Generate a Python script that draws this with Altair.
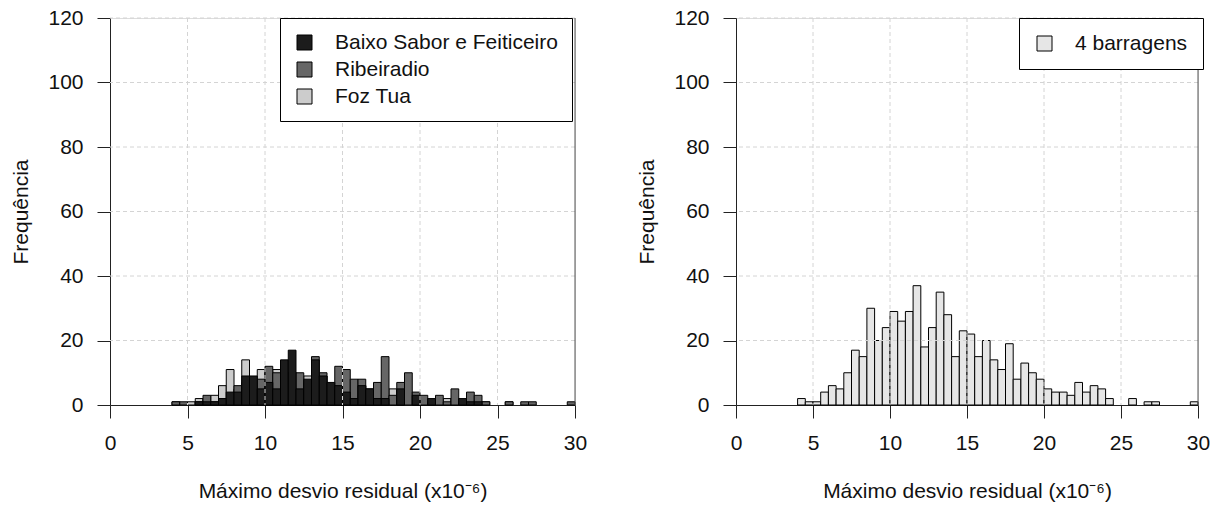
import altair as alt
import pandas as pd

# bin starts (bin width 0.5)
bin_starts = [4.0, 4.5, 5.0, 5.5, 6.0, 6.5, 7.0, 7.5, 8.0, 8.5, 9.0, 9.5, 10.0, 10.5, 11.0, 11.5,
              12.0, 12.5, 13.0, 13.5, 14.0, 14.5, 15.0, 15.5, 16.0, 16.5, 17.0, 17.5, 18.0, 18.5,
              19.0, 19.5, 20.0, 20.5, 21.0, 21.5, 22.0, 22.5, 23.0, 23.5, 24.0, 25.5, 26.5, 27.0, 29.5]
baixo_sabor = [0, 0, 0, 1, 1, 1, 2, 4, 4, 9, 9, 5, 7, 5, 14, 17, 5, 8, 14, 9, 7, 6, 4, 2, 6, 5, 2, 2, 0, 5,
               0, 3, 0, 2, 0, 0, 0, 2, 1, 1, 0, 0, 0, 0, 0]
ribeiradio = [1, 1, 0, 1, 3, 1, 2, 2, 6, 7, 5, 8, 12, 10, 8, 10, 10, 7, 15, 10, 4, 12, 11, 8, 8, 5, 7, 15, 3, 7,
              10, 4, 3, 1, 3, 1, 5, 1, 4, 3, 1, 1, 1, 1, 1]
foz_tua = [1, 0, 1, 2, 2, 3, 6, 11, 5, 14, 6, 11, 10, 11, 7, 10, 3, 9, 6, 9, 4, 5, 7, 5, 6, 4, 2, 2, 5, 1,
           0, 1, 2, 1, 1, 2, 2, 1, 1, 1, 1, 1, 0, 0, 0]
quatro_barragens = [2, 1, 1, 4, 6, 5, 10, 17, 15, 30, 20, 24, 29, 26, 29, 37, 18, 24, 35, 28, 15, 23, 22, 15, 20,
                    14, 11, 19, 8, 13, 10, 8, 5, 4, 4, 3, 7, 4, 6, 5, 2, 2, 1, 1, 1]

series_names = ["Baixo Sabor e Feiticeiro", "Ribeiradio", "Foz Tua"]
series_colors = ["#1c1c1c", "#666666", "#cccccc"]
x_ticks = [0, 5, 10, 15, 20, 25, 30]
y_ticks = [0, 20, 40, 60, 80, 100, 120]
x_grid = [5, 10, 15, 20, 25]
y_grid = [20, 40, 60, 80, 100, 120]
BW = 0.5

FONT = "Liberation Sans"
FS = 21
W, H = 465, 387
GRID = "#d4d4d4"

def frame(name, vals):
    return pd.DataFrame([
        {"serie": name, "x0": s, "x1": s + BW, "n": v, "base": 0}
        for s, v in zip(bin_starts, vals) if v > 0
    ])

x_axis = alt.Axis(values=x_ticks, tickSize=13, labelPadding=14, titlePadding=27, grid=False,
                  labelFontSize=FS, titleFontSize=FS, labelFont=FONT, titleFont=FONT,
                  titleFontWeight="normal", labelColor="#111", titleColor="#111",
                  domainColor="#222", tickColor="#222", labelFlush=False)
y_axis = alt.Axis(values=y_ticks, tickSize=13, labelPadding=14, titlePadding=16, grid=False,
                  labelFontSize=FS, titleFontSize=FS, labelFont=FONT, titleFont=FONT,
                  titleFontWeight="normal", labelColor="#111", titleColor="#111",
                  domainColor="#222", tickColor="#222", labelFlush=False)

xs = alt.Scale(domain=[0, 30], nice=False)
ys = alt.Scale(domain=[0, 120], nice=False)
xtitle = "Máximo desvio residual (x10⁻⁶)"
ytitle = "Frequência"

color_scale = alt.Scale(domain=series_names, range=series_colors)
left_legend = alt.Legend(
    orient="none", legendX=170, legendY=0, title=None, symbolType="square",
    symbolSize=225, symbolStrokeColor="#000", symbolStrokeWidth=1,
    labelFont=FONT, labelFontSize=FS, labelColor="#111", labelOffset=20, labelLimit=600,
    rowPadding=5, padding=14, strokeColor="#000", fillColor="white", symbolOpacity=1, zindex=3)

def left_layer(name, vals):
    return alt.Chart(frame(name, vals)).mark_bar(stroke="#000", strokeWidth=1).encode(
        x=alt.X("x0:Q", scale=xs, axis=x_axis, title=xtitle),
        x2="x1:Q",
        y=alt.Y("n:Q", scale=ys, axis=y_axis, title=ytitle),
        y2="base:Q",
        color=alt.Color("serie:N", scale=color_scale, legend=left_legend),
    )

def grid_layers():
    vg = alt.Chart(pd.DataFrame({"g": x_grid})).mark_rule(
        color=GRID, strokeWidth=1, strokeDash=[4, 3]).encode(
        x=alt.X("g:Q", scale=xs, axis=x_axis, title=xtitle))
    hg = alt.Chart(pd.DataFrame({"g": y_grid})).mark_rule(
        color=GRID, strokeWidth=1, strokeDash=[4, 3]).encode(
        y=alt.Y("g:Q", scale=ys, axis=y_axis, title=ytitle))
    edge = alt.Chart(pd.DataFrame({"x": [30], "y0": [0], "y1": [120]})).mark_rule(
        color="#555", strokeWidth=1).encode(
        x=alt.X("x:Q", scale=xs, axis=x_axis, title=xtitle),
        y=alt.Y("y0:Q", scale=ys, axis=y_axis, title=ytitle), y2="y1:Q")
    return [vg, hg, edge]

left = alt.layer(
    left_layer("Foz Tua", foz_tua),
    left_layer("Ribeiradio", ribeiradio),
    left_layer("Baixo Sabor e Feiticeiro", baixo_sabor),
    *grid_layers(),
).properties(width=W, height=H)

right_df = frame("4 barragens", quatro_barragens)
right = alt.layer(
    alt.Chart(right_df).mark_bar(stroke="#000", strokeWidth=1).encode(
        x=alt.X("x0:Q", scale=xs, axis=x_axis, title=xtitle),
        x2="x1:Q",
        y=alt.Y("n:Q", scale=ys, axis=y_axis, title=ytitle),
        y2="base:Q",
        fill=alt.Fill("serie:N", scale=alt.Scale(domain=["4 barragens"], range=["#e6e6e6"]),
                      legend=alt.Legend(
                          orient="none", legendX=283, legendY=0, title=None, symbolType="square",
                          symbolSize=225, symbolStrokeColor="#000", symbolStrokeWidth=1,
                          labelFont=FONT, labelFontSize=FS, labelColor="#111", labelOffset=20,
                          labelLimit=600, padding=15, strokeColor="#000", fillColor="white",
                          symbolOpacity=1, zindex=3)),
    ),
    *grid_layers(),
).properties(width=462, height=H)

chart = alt.hconcat(left, right, spacing=48).resolve_scale(color="independent", fill="independent").properties(
    padding={"left": 10, "top": 6, "right": 5, "bottom": 5}
).configure_view(stroke=None).configure(background="white")

chart.save("out.html", embed_options={"renderer": "svg", "actions": False})
